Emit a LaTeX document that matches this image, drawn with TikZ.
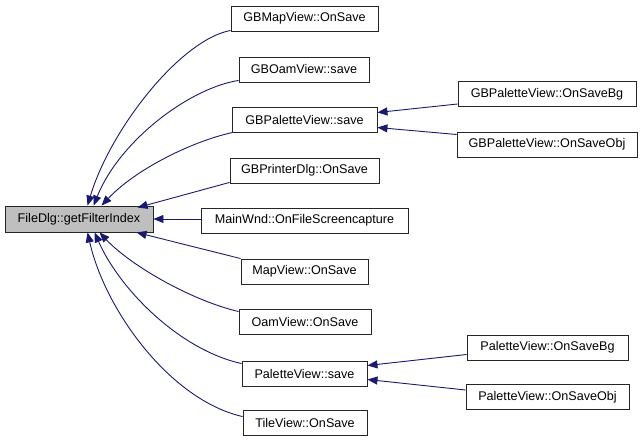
\documentclass[tikz,border=0pt]{standalone}
\usepackage{fontspec}
\setmainfont{Liberation Sans}
\usetikzlibrary{arrows.meta,calc}
\definecolor{edgeblue}{HTML}{191970}
\definecolor{rootgrey}{HTML}{BFBFBF}
\tikzset{
  fn/.style={draw=black!85, line width=0.9pt, fill=white, minimum height=25pt, inner sep=0pt,
    font=\fontsize{12.6}{14}\selectfont, anchor=center},
  rootfn/.style={fn, fill=rootgrey, minimum height=26pt},
  edge/.style={draw=edgeblue, line width=0.9pt, -{Triangle[length=10pt,width=8pt]}}
}
\begin{document}
\begin{tikzpicture}[x=1pt,y=-1pt]
\useasboundingbox (0,0) rectangle (644,443);
\node[rootfn, minimum width=148pt] (fd) at (79,219) {FileDlg::getFilterIndex};
\node[fn, minimum width=147pt] (gbmap) at (304.5,18.5) {GBMapView::OnSave};
\node[fn, minimum width=130pt] (gboam) at (304,69.5) {GBOamView::save};
\node[fn, minimum width=145pt] (gbpal) at (304.5,119.5) {GBPaletteView::save};
\node[fn, minimum width=149pt] (gbprn) at (304.5,170.5) {GBPrinterDlg::OnSave};
\node[fn, minimum width=207pt] (mainw) at (304.5,220.5) {MainWnd::OnFileScreencapture};
\node[fn, minimum width=127pt] (mapv) at (304.5,271.5) {MapView::OnSave};
\node[fn, minimum width=132pt] (oamv) at (305,321.5) {OamView::OnSave};
\node[fn, minimum width=125pt] (palv) at (304.5,373.5) {PaletteView::save};
\node[fn, minimum width=124pt] (tilev) at (305,422.5) {TileView::OnSave};
\node[fn, minimum width=178pt] (gbpbg) at (547,94) {GBPaletteView::OnSaveBg};
\node[fn, minimum width=180pt] (gbpobj) at (547,144.5) {GBPaletteView::OnSaveObj};
\node[fn, minimum width=161pt] (pbg) at (547.5,347.5) {PaletteView::OnSaveBg};
\node[fn, minimum width=163pt] (pobj) at (547.5,397) {PaletteView::OnSaveObj};

% edges to root (top side)
\draw[edge] ($(gbmap.south west)+(0,-1)$) .. controls (180,40) and (110,130) .. ($(fd.north west)+(83,0)$);
\draw[edge] ($(gboam.south west)+(0,-2)$) .. controls (190,88) and (120,140) .. ($(fd.north west)+(89,0)$);
\draw[edge] ($(gbpal.south west)+(1,0)$) .. controls (190,142) and (135,170) .. ($(fd.north west)+(97,0)$);
\draw[edge] ($(gbprn.south west)+(0,-1)$) -- ($(fd.north west)+(133,2)$);
% middle
\draw[edge] (mainw.west |- fd.east) -- (fd.east);
% bottom side
\draw[edge] ($(mapv.north west)+(0,0)$) -- ($(fd.south west)+(132,0)$);
\draw[edge] ($(oamv.north west)+(0,3)$) .. controls (190,300) and (130,265) .. ($(fd.south west)+(95,0)$);
\draw[edge] ($(palv.north west)+(0,3)$) .. controls (180,350) and (120,290) .. ($(fd.south west)+(90,0)$);
\draw[edge] ($(tilev.north west)+(0,7)$) .. controls (170,400) and (105,310) .. ($(fd.south west)+(83,0)$);
% secondary
\draw[edge] ($(gbpbg.west)+(0,10)$) -- ($(gbpal.east)+(0,-7)$);
\draw[edge] ($(gbpobj.west)+(0,-10)$) -- ($(gbpal.east)+(0,8)$);
\draw[edge] ($(pbg.west)+(0,7)$) -- ($(palv.east)+(0,-8)$);
\draw[edge] ($(pobj.west)+(0,-7)$) -- ($(palv.east)+(0,6)$);
\end{tikzpicture}
\end{document}
